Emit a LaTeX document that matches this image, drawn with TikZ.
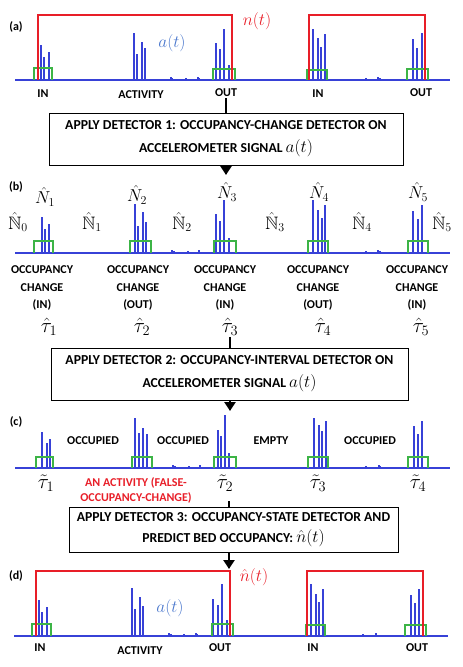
\documentclass[tikz,border=0pt]{standalone}
\usepackage{amsmath,amssymb}
\usepackage{fontspec}
\setsansfont{Carlito}
\usetikzlibrary{arrows.meta,positioning}
\definecolor{sigblue}{RGB}{55,65,215}
\definecolor{wingreen}{RGB}{60,180,70}
\definecolor{occred}{RGB}{232,30,40}
\definecolor{siglabel}{RGB}{75,120,205}
\tikzset{
  sig/.style={draw=sigblue,line width=1.1pt},
  win/.style={draw=wingreen,line width=1.4pt},
  occ/.style={draw=occred,line width=1.5pt},
  lbl/.style={font=\sffamily\bfseries\fontsize{12}{17.5}\selectfont,align=center,inner sep=1pt},
  redlbl/.style={lbl,text=occred,font=\sffamily\bfseries\fontsize{12}{15}\selectfont},
  mlbl/.style={font=\fontsize{18}{20}\selectfont,inner sep=1pt},
  taulbl/.style={font=\fontsize{20}{22}\selectfont,inner sep=1pt},
  sigtext/.style={text=siglabel,font=\fontsize{17}{19}\selectfont,inner sep=1pt},
  occtext/.style={text=occred,font=\fontsize{17}{19}\selectfont,inner sep=1pt},
  stepbox/.style={draw,line width=0.8pt,minimum height=52pt,align=center,inner sep=0pt,
    font=\sffamily\bfseries\fontsize{13.7}{23}\selectfont},
  stub/.style={line width=2.5pt},
  flow/.style={line width=2.5pt,-{Triangle[length=9pt,width=11pt]}}
}
\newcommand{\boxmath}[1]{{\fontsize{17}{17}\selectfont$#1$}}

\begin{document}
\begin{tikzpicture}[x=1pt,y=-1pt]
  \useasboundingbox (0,0) rectangle (463,667);

  % (a) true occupancy and raw signal
  \node[lbl] (pa) at (16,27) {(a)};
  \draw[sig] (15,80) -- (450,80);
  \foreach \x/\t in {41/45,44/57,49/52,134/33,137/54,142/42,145/48,171/77,172/78,186/78,
    198/77,199/78,216/43,220/49,224/29,229/65,313/29,318/38,321/47,325/34,344/79,366/78,
    378/77,380/78,413/39,417/48,422/33}
    \draw[sig] (\x,80) -- (\x,\t);
  \foreach \l/\r/\t in {34/52/68,213/235/69,307/327/70,407/428/69}
    \draw[win] (\l,80) |- (\r,\t) -- (\r,80);
  \draw[occ] (38,80) |- (232,15) -- (232,80);
  \draw[occ] (309,80) |- (425,15) -- (425,80);
  \node[occtext] (nA) at (257,21) {$n(t)$};
  \node[sigtext] (aA) at (172,43) {$a(t)$};
  \node[lbl] (inA1) at (43,94) {IN};
  \node[lbl] (actA) at (141,95) {ACTIVITY};
  \node[lbl] (outA1) at (226,93) {OUT};
  \node[lbl] (inA2) at (318,94) {IN};
  \node[lbl] (outA2) at (421,93) {OUT};

  \node[stepbox,minimum width=354pt] (det1) at (226,139)
    {APPLY DETECTOR 1: OCCUPANCY-CHANGE DETECTOR ON\\ACCELEROMETER SIGNAL \boxmath{a(t)}};
  \draw[stub] (outA1.south) -- (outA1.south |- det1.north);
  \coordinate (endA) at (226,175);
  \draw[flow] (det1.south -| endA) -- (endA);

  % (b) occupancy changes
  \node[lbl] (pb) at (16,187) {(b)};
  \draw[sig] (15,253) -- (450,253);
  \foreach \x/\t in {42/217,45/229,49/224,135/204,138/226,143/212,146/222,172/250,174/251,
    188/251,199/250,216/214,220/221,224/200,229/238,313/200,318/210,322/218,325/205,344/252,
    366/251,378/250,380/251,413/211,418/219,422/205}
    \draw[sig] (\x,253) -- (\x,\t);
  \foreach \l/\r in {34/53,130/151,214/236,308/328,408/428}
    \draw[win] (\l,253) |- (\r,241) -- (\r,253);
  \foreach \x/\y/\i in {45/197/1,137/195/2,227/192/3,319/192/4,418/192/5}
    \node[mlbl] (Nh\i) at (\x,\y) {$\hat{N}_{\i}$};
  \foreach \x/\i in {18/0,92/1,182/2,275/3,362/4,442/5}
    \node[mlbl] (Nb\i) at (\x,222) {$\hat{\mathbb{N}}_{\i}$};
  \foreach \x/\d/\i in {42/IN/1,138/OUT/2,225/IN/3,318/OUT/4,417/IN/5}
    \node[lbl] (chg\i) at (\x,288) {OCCUPANCY\\CHANGE\\(\d)};
  \foreach \x/\i in {49/1,142/2,230/3,323/4,421/5}
    \node[taulbl] (th\i) at (\x,327) {$\hat{\tau}_{\i}$};

  \node[stepbox,minimum width=357pt] (det2) at (229.5,374)
    {APPLY DETECTOR 2: OCCUPANCY-INTERVAL DETECTOR ON\\ACCELEROMETER SIGNAL \boxmath{a(t)}};
  \draw[stub] (th3.south) -- (th3.south |- det2.north);
  \coordinate (endB) at (230,411);
  \draw[flow] (det2.south -| endB) -- (endB);

  % (c) occupancy intervals
  \node[lbl] (pc) at (16,422) {(c)};
  \draw[sig] (15,468) -- (450,468);
  \foreach \x/\t in {42/432,47/443,50/439,135/418,139/433,143/428,147/434,173/465,175/466,
    189/466,200/465,218/430,221/436,225/415,229/453,314/418,319/425,322/431,326/421,344/467,
    366/466,379/465,380/466,414/426,418/434,422/421}
    \draw[sig] (\x,468) -- (\x,\t);
  \foreach \l/\r in {36/53,132/152,214/236,308/328,408/428}
    \draw[win] (\l,468) |- (\r,457) -- (\r,468);
  \node[lbl] (occ1) at (93,441) {OCCUPIED};
  \node[lbl] (occ2) at (183,441) {OCCUPIED};
  \node[lbl] (emp) at (271,441) {EMPTY};
  \node[lbl] (occ3) at (370,441) {OCCUPIED};
  \foreach \x/\i in {46/1,225/2,318/3,418/4}
    \node[taulbl] (tt\i) at (\x,483) {$\tilde{\tau}_{\i}$};
  \node[redlbl] (falsechg) at (136,490) {AN ACTIVITY (FALSE-\\OCCUPANCY-CHANGE)};

  \node[stepbox,minimum width=329pt,minimum height=45pt,font=\sffamily\bfseries\fontsize{13.7}{21}\selectfont]
    (det3) at (233.5,529.5)
    {APPLY DETECTOR 3: OCCUPANCY-STATE DETECTOR AND\\PREDICT BED OCCUPANCY: \boxmath{\hat{n}(t)}};
  \coordinate (stC) at (229,501);
  \draw[stub] (stC) -- (stC |- det3.north);
  \coordinate (endC) at (229,569);
  \draw[flow] (det3.south -| endC) -- (endC);

  % (d) predicted occupancy
  \node[lbl] (pd) at (16,576) {(d)};
  \draw[sig] (14,636) -- (448,636);
  \foreach \x/\t in {39/600,42/612,47/607,132/588,135/609,140/597,143/606,169/633,171/634,
    184/634,196/633,197/634,213/599,218/605,222/584,227/620,311/584,316/594,319/602,323/589,
    342/635,363/634,376/633,411/595,415/603,419/589}
    \draw[sig] (\x,636) -- (\x,\t);
  \foreach \l/\r/\t in {32/51/624,212/233/624,306/325/625,405/426/625}
    \draw[win] (\l,636) |- (\r,\t) -- (\r,636);
  \draw[occ] (36,636) |- (230,571) -- (230,636);
  \draw[occ] (307,636) |- (423,571) -- (423,636);
  \node[occtext] (nD) at (254,577) {$\hat{n}(t)$};
  \node[sigtext] (aD) at (170,608) {$a(t)$};
  \node[lbl] (inD1) at (40,648) {IN};
  \node[lbl] (actD) at (140,651) {ACTIVITY};
  \node[lbl] (outD1) at (220,648) {OUT};
  \node[lbl] (inD2) at (313,648) {IN};
  \node[lbl] (outD2) at (417,648) {OUT};
\end{tikzpicture}
\end{document}
